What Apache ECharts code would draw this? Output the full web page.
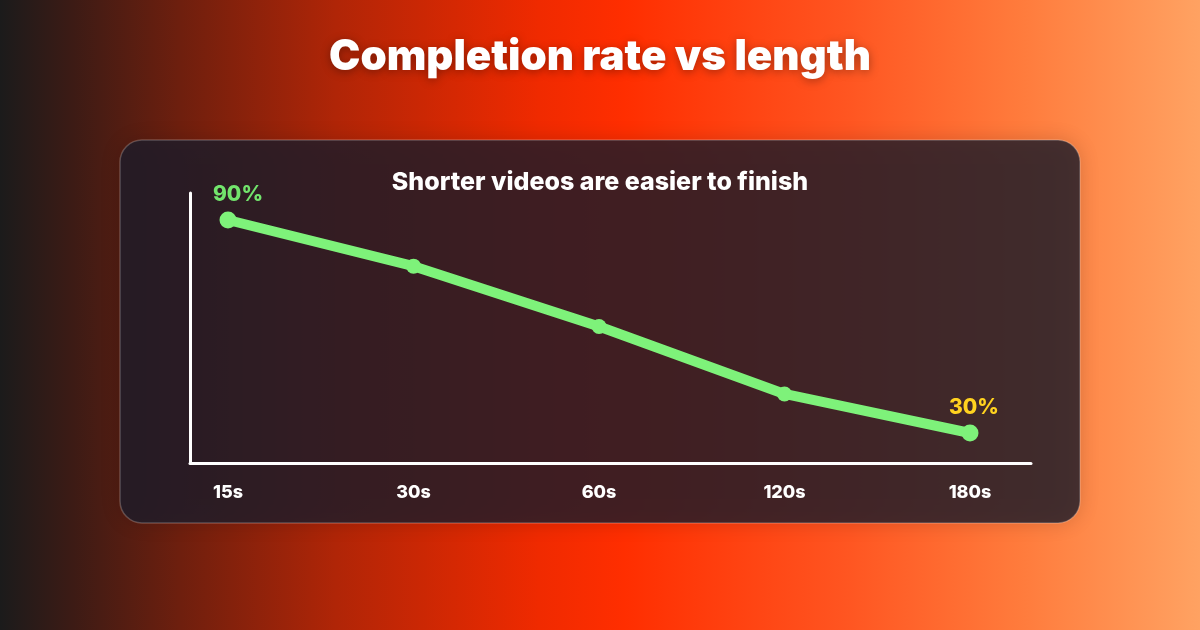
<!DOCTYPE html>
<html>
<head>
<meta charset="utf-8">
<script src="https://cdn.jsdelivr.net/npm/echarts@6/dist/echarts.min.js"></script>
<style>
    html, body { margin: 0; padding: 0; }
    #chart { width: 1200px; height: 630px; }
</style>
</head>
<body>
<div id="chart"></div>
<script>
var lengths = ['15s', '30s', '60s', '120s', '180s'];
var completion = [90, 77, 60, 41, 30];

var chart = echarts.init(document.getElementById('chart'));

var points = completion.map(function (v, i) {
    var item = { value: v, symbolSize: 15 };
    if (i === 0) {
        item.symbolSize = 17;
        item.label = { show: true, color: '#72e46c', offset: [10, 0] };
    }
    if (i === completion.length - 1) {
        item.symbolSize = 17;
        item.label = { show: true, color: '#ffd21f', offset: [4, 0] };
    }
    return item;
});

chart.setOption({
    backgroundColor: new echarts.graphic.LinearGradient(0, 0, 1, 0, [
        { offset: 0, color: '#1b1b1b' },
        { offset: 0.06, color: '#3c1b15' },
        { offset: 0.15, color: '#6e1f0e' },
        { offset: 0.28, color: '#b02507' },
        { offset: 0.45, color: '#f02a00' },
        { offset: 0.52, color: '#ff2e00' },
        { offset: 0.7, color: '#ff5420' },
        { offset: 0.85, color: '#ff7b3c' },
        { offset: 1, color: '#ffa262' }
    ]),
    textStyle: { fontFamily: 'Inter' },
    graphic: [
        {
            type: 'rect',
            z: 0,
            shape: { x: 120, y: 140, width: 960, height: 383, r: 22 },
            style: {
                fill: 'rgba(30,28,42,0.81)',
                stroke: 'rgba(255,255,255,0.22)',
                lineWidth: 1.5,
                shadowBlur: 20,
                shadowColor: 'rgba(0,0,0,0.2)'
            }
        },
        {
            type: 'text',
            z: 5,
            left: 'center',
            top: 36,
            style: {
                text: 'Completion rate vs length',
                fill: '#fff',
                font: '900 42px Inter',
                textShadowBlur: 10,
                textShadowColor: 'rgba(0,0,0,0.35)',
                textShadowOffsetY: 2
            }
        },
        {
            type: 'text',
            z: 5,
            left: 'center',
            top: 170,
            style: {
                text: 'Shorter videos are easier to finish',
                fill: '#fff',
                font: '800 25px Inter'
            }
        }
    ],
    grid: [
        { left: 228, right: 230, top: 184.5, bottom: 161.5 },
        { left: 190, right: 169, top: 193, bottom: 167 }
    ],
    xAxis: [
        {
            type: 'category',
            gridIndex: 0,
            data: lengths,
            boundaryGap: false,
            axisLine: { show: false },
            axisTick: { show: false },
            axisLabel: {
                color: '#fff',
                fontSize: 18,
                fontWeight: 800,
                margin: 15
            }
        },
        {
            type: 'value',
            gridIndex: 1,
            axisLine: { show: true, lineStyle: { color: '#fff', width: 3 } },
            axisTick: { show: false },
            axisLabel: { show: false },
            splitLine: { show: false }
        }
    ],
    yAxis: [
        {
            type: 'value',
            gridIndex: 0,
            min: 20,
            max: 100,
            axisLine: { show: false },
            axisTick: { show: false },
            axisLabel: { show: false },
            splitLine: { show: false }
        },
        {
            type: 'value',
            gridIndex: 1,
            axisLine: { show: true, lineStyle: { color: '#fff', width: 3 } },
            axisTick: { show: false },
            axisLabel: { show: false },
            splitLine: { show: false }
        }
    ],
    series: [
        {
            type: 'line',
            xAxisIndex: 0,
            yAxisIndex: 0,
            z: 3,
            data: points,
            symbol: 'circle',
            lineStyle: { color: '#7ef27a', width: 10 },
            itemStyle: { color: '#7ef27a' },
            label: {
                show: false,
                position: 'top',
                distance: 6,
                fontSize: 21,
                fontWeight: 800,
                formatter: '{c}%'
            },
            animation: false
        }
    ]
});
</script>
</body>
</html>
